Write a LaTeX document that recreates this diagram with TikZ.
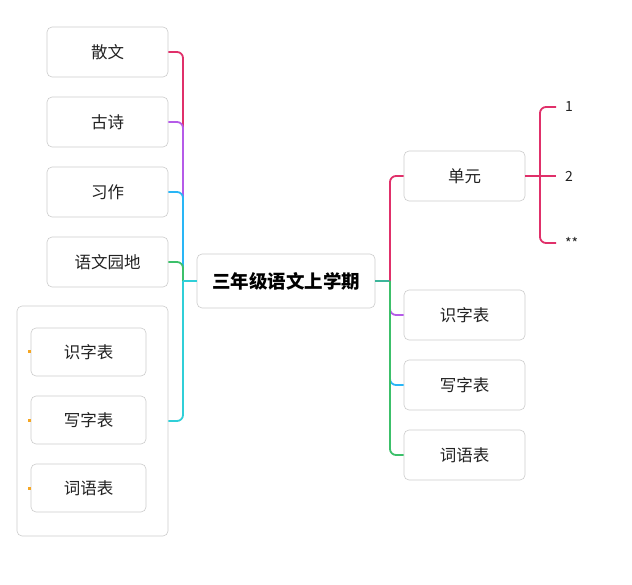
\documentclass[tikz,border=0pt]{standalone}
\usepackage{fontspec}
\setmainfont{Noto Sans CJK SC}
\usepackage{tikz}
\definecolor{lnred}{HTML}{E0306A}
\definecolor{lnpur}{HTML}{B55BE8}
\definecolor{lnblu}{HTML}{29B6F6}
\definecolor{lngrn}{HTML}{3CC06A}
\definecolor{lncya}{HTML}{30CFD8}
\definecolor{lntea}{HTML}{3DB59A}
\definecolor{dotor}{HTML}{F5A623}
\definecolor{bxgray}{HTML}{CCCCCC}
\definecolor{txt}{HTML}{222222}
\begin{document}
\begin{tikzpicture}[x=1pt,y=-1pt,
    topic/.style={draw=bxgray, line width=0.6pt, rounded corners=5pt, fill=white,
      minimum width=121pt, minimum height=50pt, inner sep=0pt, text=txt,
      font=\fontsize{16.5}{18}\selectfont},
    sub/.style={topic, minimum width=115pt, minimum height=48pt},
    grp/.style={draw=bxgray, line width=0.6pt, rounded corners=5pt,
      minimum width=151pt, minimum height=230pt, inner sep=0pt},
    root/.style={topic, minimum width=178pt, minimum height=54pt, text=black,
      font=\fontsize{18.5}{20}\selectfont\bfseries},
    lbl/.style={anchor=west, inner xsep=9pt, text=txt, font=\fontsize{14}{16}\selectfont},
    br/.style={line width=1.8pt, rounded corners=6pt}]
  \useasboundingbox (0,0) rectangle (632,585);
  % center
  \node[root] (c) at (286,281) {三年级语文上学期};
  % left side
  \node[topic] (sw) at (107.5,52) {散文};
  \node[topic] (gs) at (107.5,122) {古诗};
  \node[topic] (xz) at (107.5,192) {习作};
  \node[topic] (yw) at (107.5,262) {语文园地};
  \node[grp] (g) at (92.5,421) {};
  \node[sub] (g1) at (88.5,352) {识字表};
  \node[sub] (g2) at (88.5,420) {写字表};
  \node[sub] (g3) at (88.5,488) {词语表};
  \foreach \n in {g1,g2,g3}{
      \fill[dotor] ([xshift=-3pt]\n.west) ++(0,-1.5) rectangle ++(3,3);
  }
  % right side
  \node[topic] (dy) at (464.5,176) {单元};
  \node[topic] (sz) at (464.5,315) {识字表};
  \node[topic] (xb) at (464.5,385) {写字表};
  \node[topic] (cy) at (464.5,455) {词语表};
  \node[lbl] (n1) at (556,107) {1};
  \node[lbl] (n2) at (556,176) {2};
  \node[lbl, font=\fontsize{14}{16}\selectfont] (n3) at (556,243) {**};
  % left connectors
  \coordinate (lt) at (183,281);
  \draw[br, lnred] (lt) |- (sw.east);
  \draw[br, lnpur] (lt) |- (gs.east);
  \draw[br, lnblu] (lt) |- (xz.east);
  \draw[br, lngrn] (lt) |- (yw.east);
  \draw[br, lncya] (lt) |- (g.east);
  \draw[br, lncya] (c.west) -- (lt);
  % right connectors
  \coordinate (rt) at (390,281);
  \draw[br, lntea] (c.east) -- (rt);
  \draw[br, lnred] (rt) |- (dy.west);
  \draw[br, lnpur] (rt) |- (sz.west);
  \draw[br, lnblu] (rt) |- (xb.west);
  \draw[br, lngrn] (rt) |- (cy.west);
  % unit children
  \coordinate (ut) at (540,176);
  \draw[br, lnred] (dy.east) -- (n2.west);
  \draw[br, lnred] (ut) |- (n1.west);
  \draw[br, lnred] (ut) |- (n3.west);
\end{tikzpicture}
\end{document}
